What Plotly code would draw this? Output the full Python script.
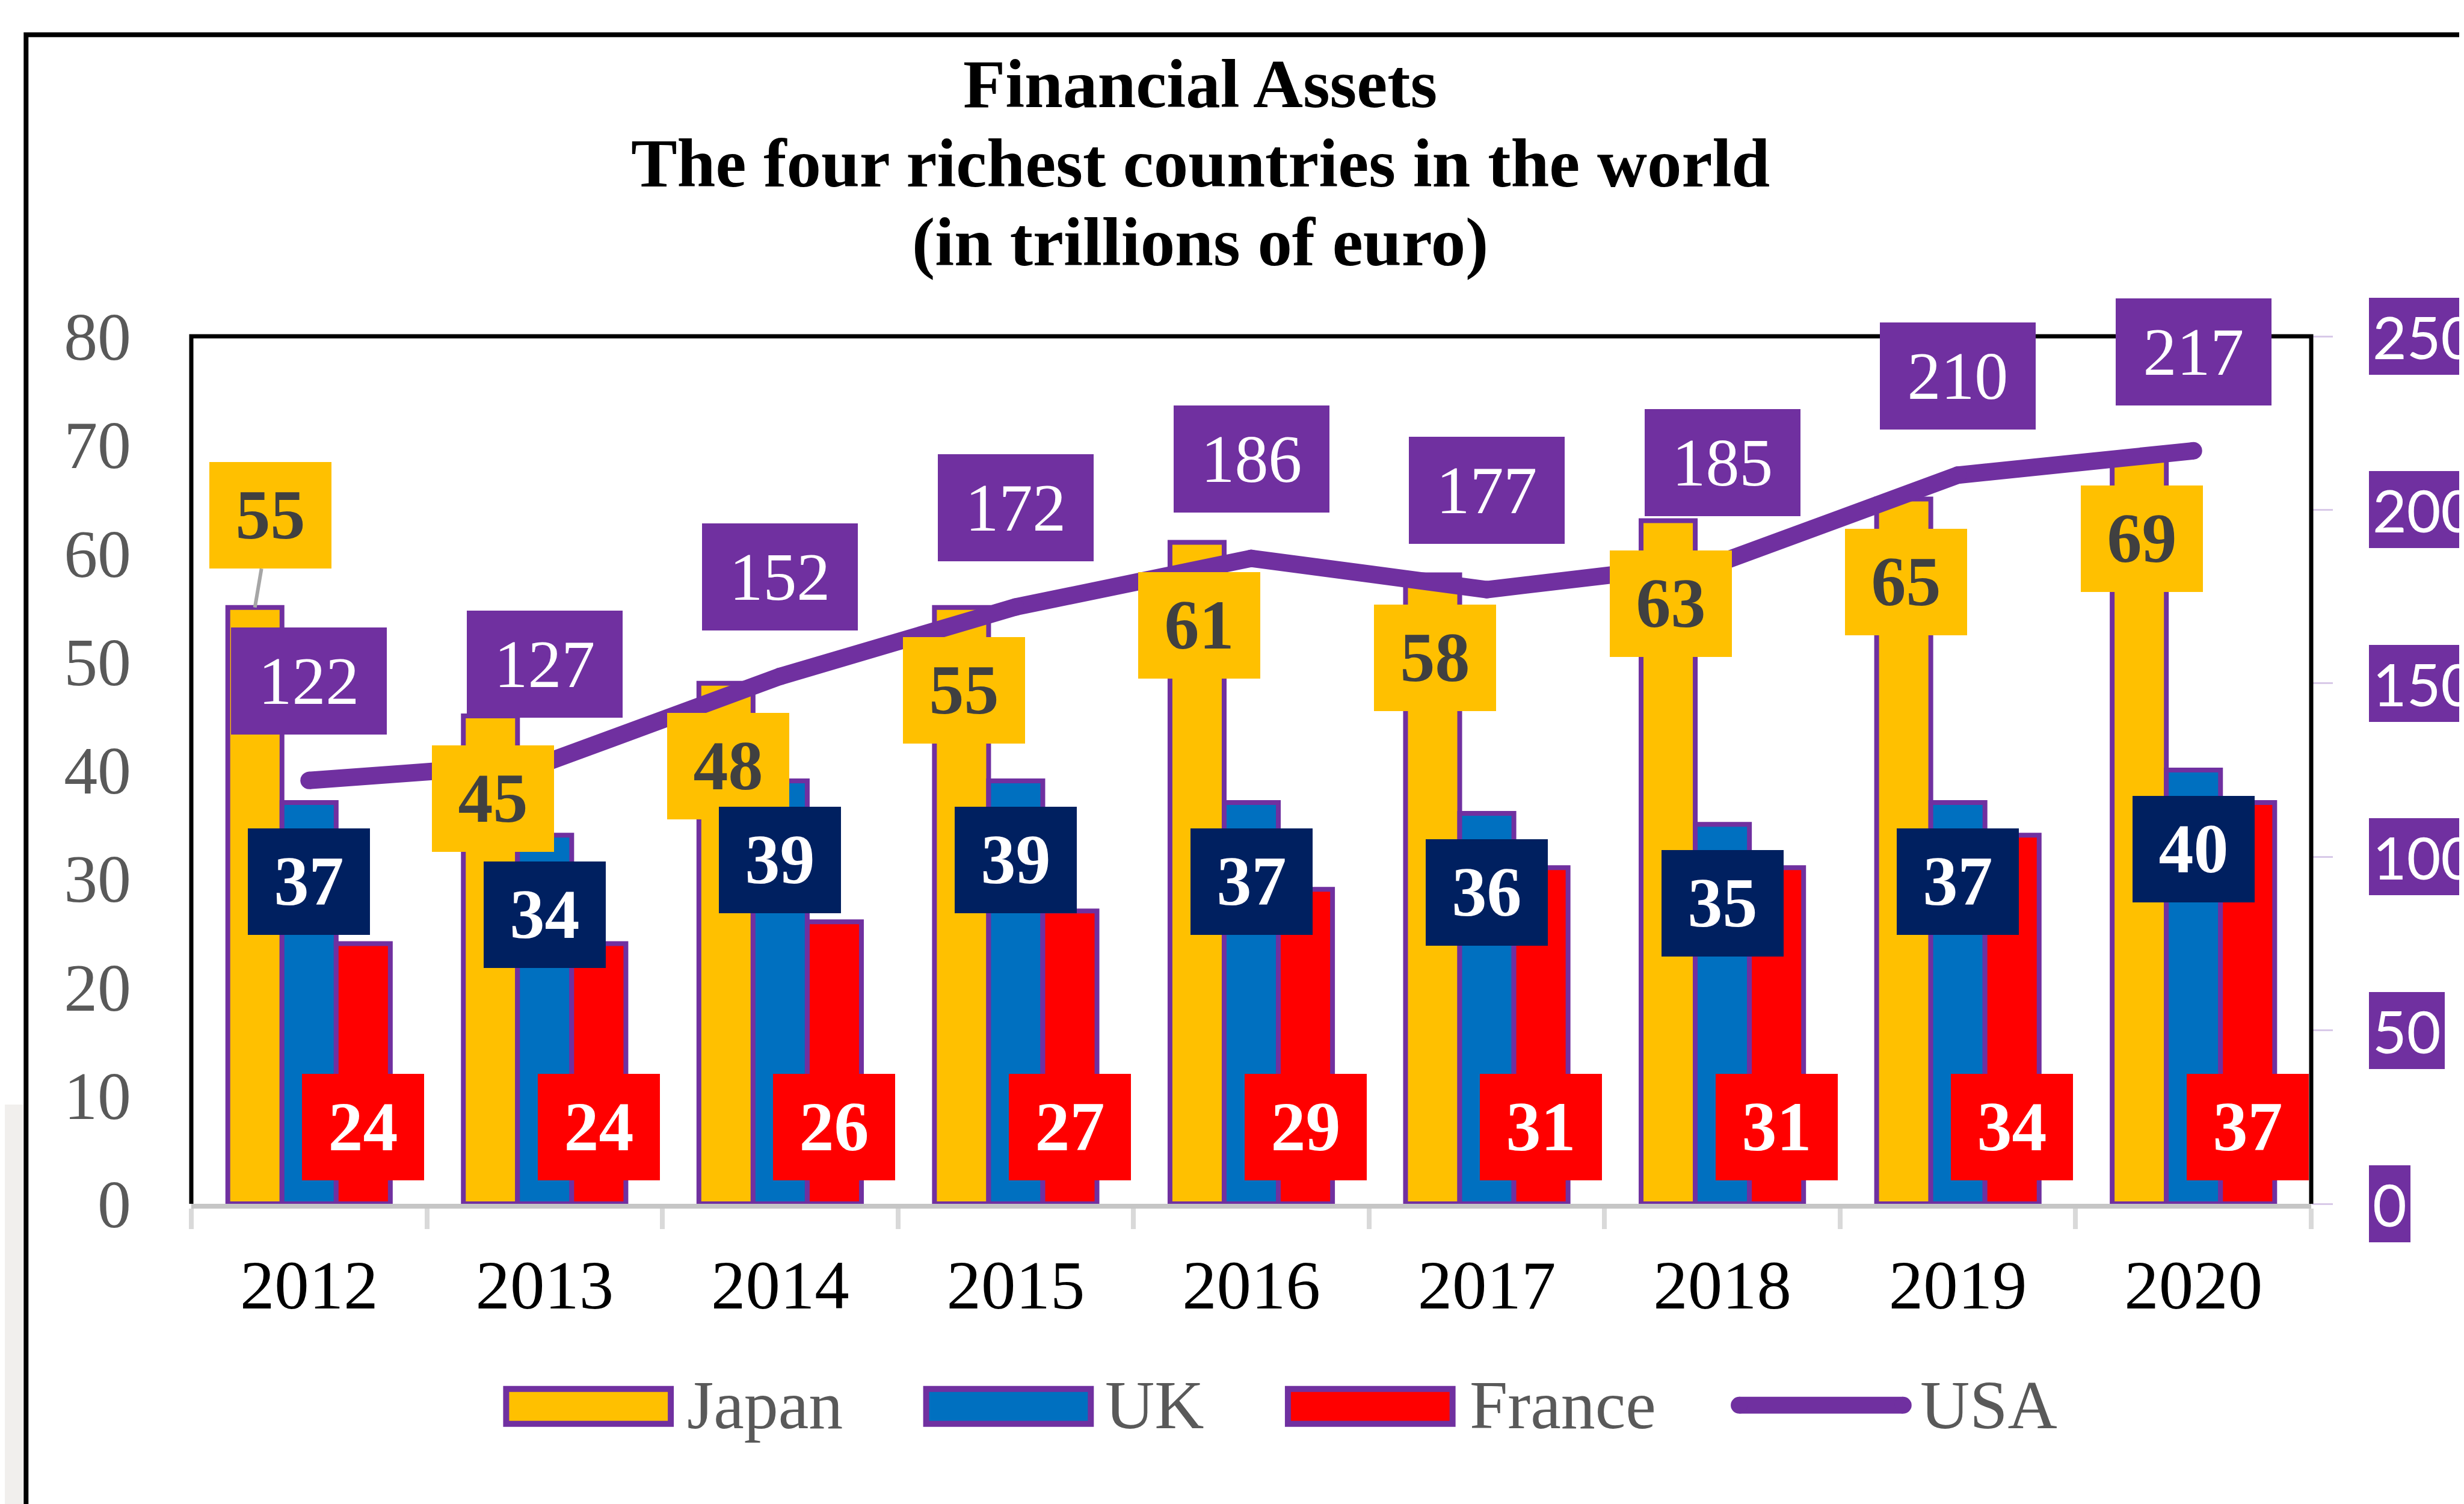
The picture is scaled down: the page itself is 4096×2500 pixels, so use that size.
import plotly.graph_objects as go

# ---------------- data ----------------
years = ["2012", "2013", "2014", "2015", "2016", "2017", "2018", "2019", "2020"]
japan = [55, 45, 48, 55, 61, 58, 63, 65, 69]
uk = [37, 34, 39, 39, 37, 36, 35, 37, 40]
france = [24, 24, 26, 27, 29, 31, 31, 34, 37]
usa = [122, 127, 152, 172, 186, 177, 185, 210, 217]
left_ticks = [0, 10, 20, 30, 40, 50, 60, 70, 80]
right_ticks = [0, 50, 100, 150, 200, 250]
title_lines = ["Financial Assets", "The four richest countries in the world", "(in trillions of euro)"]
series_names = ["Japan", "UK", "France", "USA"]

# ---------------- geometry / style ----------------
W, H = 4096, 2500
S = 0.999
PL, PR, PT, PB = 310, 3838, 552, 1995      # plot area in reference pixels
L = PL * S
R = W - PR * S
T = PT * S
B = H - PB * S


def px(xr):
    return (xr - PL) / (PR - PL)


def py(yr):
    return (PB - yr) / (PB - PT)


SERIF = "Liberation Serif, Times New Roman, serif"
SANS = "Lato, Open Sans, sans-serif"
PURPLE = "#7030A0"
YELLOW = "#FFC000"
BLUE = "#0070C0"
RED = "#FF0000"
NAVY = "#002060"
GRAY_TXT = "#595959"

BARGAP = 0.31
cat_w = (PR - PL) * S / len(years)
bar_w = (1 - BARGAP) / 3 * cat_w

fig = go.Figure()
bar_line = dict(color=PURPLE, width=8 * S)
fig.add_bar(x=years, y=japan, name=series_names[0], marker=dict(color=YELLOW, line=bar_line))
fig.add_bar(x=years, y=uk, name=series_names[1], marker=dict(color=BLUE, line=bar_line))
fig.add_bar(x=years, y=france, name=series_names[2], marker=dict(color=RED, line=bar_line))
fig.add_scatter(x=years, y=usa, name=series_names[3], yaxis="y2", mode="lines+markers",
                line=dict(color=PURPLE, width=29 * S),
                marker=dict(color=PURPLE, size=29 * S, line=dict(width=0)))

ann = []
shapes = []

# ---- title ----
for txt, yc in zip(title_lines, [132, 264, 395]):
    ann.append(dict(text="<b>%s</b>" % txt, x=px(1989), y=py(yc), xref="paper", yref="paper",
                    xanchor="center", yanchor="middle", showarrow=False,
                    font=dict(family=SERIF, size=115 * S, color="#000000")))

# ---- data labels ----
BOX2 = (203 * S, 177 * S)
BOX3 = (259 * S, 178 * S)


def label(i, yv, txt, bg, fc, bold, box, xshift=0, yshift=0, yref="y", **kw):
    # i = category index on the category x axis
    d = dict(x=i, y=yv, xref="x", yref=yref, text=("<b>%s</b>" % txt) if bold else txt,
             showarrow=False, xshift=xshift, yshift=yshift, bgcolor=bg,
             width=box[0], height=box[1], borderpad=0, borderwidth=0,
             align="center", valign="middle",
             font=dict(family=SERIF, size=(116 if bold else 112) * S, color=fc))
    d.update(kw)
    return d


for i, v in enumerate(japan):
    if i == 0:
        d = label(i, v, str(v), YELLOW, "#404040", True, BOX2, xshift=-bar_w)
        d.update(showarrow=True, arrowhead=0, arrowwidth=6 * S, arrowcolor="#A6A6A6",
                 ax=26 * S, ay=-153 * S, standoff=0, startstandoff=0)
        ann.append(d)
    else:
        ann.append(label(i, v, str(v), YELLOW, "#404040", True, BOX2,
                         xshift=-bar_w + 4 * S, yshift=-138 * S))
for i, v in enumerate(uk):
    ann.append(label(i, v, str(v), NAVY, "#FFFFFF", True, BOX2, yshift=-132 * S))
for i, v in enumerate(france):
    ann.append(label(i, 0, str(v), RED, "#FFFFFF", True, BOX2, xshift=bar_w, yshift=128 * S))
for i, v in enumerate(usa):
    ann.append(label(i, v, str(v), PURPLE, "#FFFFFF", False, BOX3, yshift=165 * S, yref="y2"))

# ---- right axis labels (purple boxes) ----
for t in right_ticks:
    ann.append(dict(text=str(t), x=px(3934), y=t, xref="paper", yref="y2",
                    xanchor="left", yanchor="middle", showarrow=False,
                    bgcolor=PURPLE, borderpad=6 * S, borderwidth=0, height=116 * S,
                    font=dict(family=SANS, size=98 * S, color="#FFFFFF")))

# ---- plot frame (black on top/left/right) ----
shapes.append(dict(type="path", xref="paper", yref="paper",
                   path="M %f,%f L %f,%f L %f,%f L %f,%f" % (0, 0, 0, 1, 1, 1, 1, 0),
                   line=dict(color="#000000", width=7 * S), layer="above"))
# ---- outer frame ----
shapes.append(dict(type="path", xref="paper", yref="paper",
                   path="M %f,%f L %f,%f L %f,%f" % (px(35), py(2520), px(35), py(50.5), px(4200), py(50.5)),
                   line=dict(color="#000000", width=8 * S), layer="above"))
shapes.append(dict(type="rect", xref="paper", yref="paper", x0=px(-5), x1=px(30), y0=py(2520), y1=py(1830),
                   fillcolor="#E3E0DB", opacity=0.5, line=dict(width=0), layer="below"))

# ---- legend (manual) ----
LEG_Y0, LEG_Y1 = 2298, 2366
LEG_YC = 2330
sw = [(829, 1113, YELLOW, 1133), (1528, 1812, BLUE, 1829), (2130, 2414, RED, 2435)]
for (x0, x1, col, tx), name in zip(sw, series_names[:3]):
    shapes.append(dict(type="rect", xref="paper", yref="paper",
                       x0=px(x0 + 5), x1=px(x1 - 5), y0=py(LEG_Y1 - 5), y1=py(LEG_Y0 + 5),
                       fillcolor=col, line=dict(color=PURPLE, width=10 * S), layer="above"))
    ann.append(dict(text=name, x=px(tx), y=py(LEG_YC), xref="paper", yref="paper",
                    xanchor="left", yanchor="middle", showarrow=False,
                    font=dict(family=SERIF, size=114 * S, color=GRAY_TXT)))
ux0, ux1, lw = 2872, 3173, 28
shapes.append(dict(type="line", xref="paper", yref="paper", x0=px(ux0 + lw / 2), x1=px(ux1 - lw / 2),
                   y0=py(LEG_YC), y1=py(LEG_YC), line=dict(color=PURPLE, width=lw * S), layer="above"))
for xe in (ux0 + lw / 2, ux1 - lw / 2):
    shapes.append(dict(type="circle", xref="paper", yref="paper", xsizemode="pixel", ysizemode="pixel",
                       xanchor=px(xe), yanchor=py(LEG_YC),
                       x0=-lw / 2 * S, x1=lw / 2 * S, y0=-lw / 2 * S, y1=lw / 2 * S,
                       fillcolor=PURPLE, line=dict(width=0), layer="above"))
ann.append(dict(text=series_names[3], x=px(3185), y=py(LEG_YC), xref="paper", yref="paper",
                xanchor="left", yanchor="middle", showarrow=False,
                font=dict(family=SERIF, size=114 * S, color=GRAY_TXT)))

fig.update_layout(
    template="none",
    width=W, height=H,
    margin=dict(l=L, r=R, t=T, b=B, pad=0),
    paper_bgcolor="#FFFFFF", plot_bgcolor="#FFFFFF",
    barmode="group", bargap=BARGAP, bargroupgap=0,
    showlegend=False,
    font=dict(family=SERIF, color="#000000"),
    xaxis=dict(type="category", range=[-0.5, len(years) - 0.5], autorange=False,
               showgrid=False, zeroline=False, automargin=False,
               showline=True, linecolor="#C6C6C6", linewidth=8 * S, tickangle=0,
               ticks="outside", tickson="boundaries", ticklen=34 * S, tickwidth=8 * S, tickcolor="#D9D9D9",
               tickfont=dict(family=SERIF, size=115 * S, color="#000000"), ticklabelstandoff=28),
    yaxis=dict(range=[0, 80], autorange=False, tickvals=left_ticks, showgrid=False, zeroline=False,
               automargin=False, showline=False, ticks="",
               tickfont=dict(family=SERIF, size=112 * S, color=GRAY_TXT), ticklabelstandoff=99),
    yaxis2=dict(range=[0, 250], autorange=False, tickvals=right_ticks, overlaying="y", side="right",
                showgrid=False, zeroline=False, automargin=False, showline=False, showticklabels=False,
                ticks="outside", ticklen=35 * S, tickwidth=3 * S, tickcolor="#D8C9E8"),
    annotations=ann,
    shapes=shapes,
)

fig.write_html("out.html")
